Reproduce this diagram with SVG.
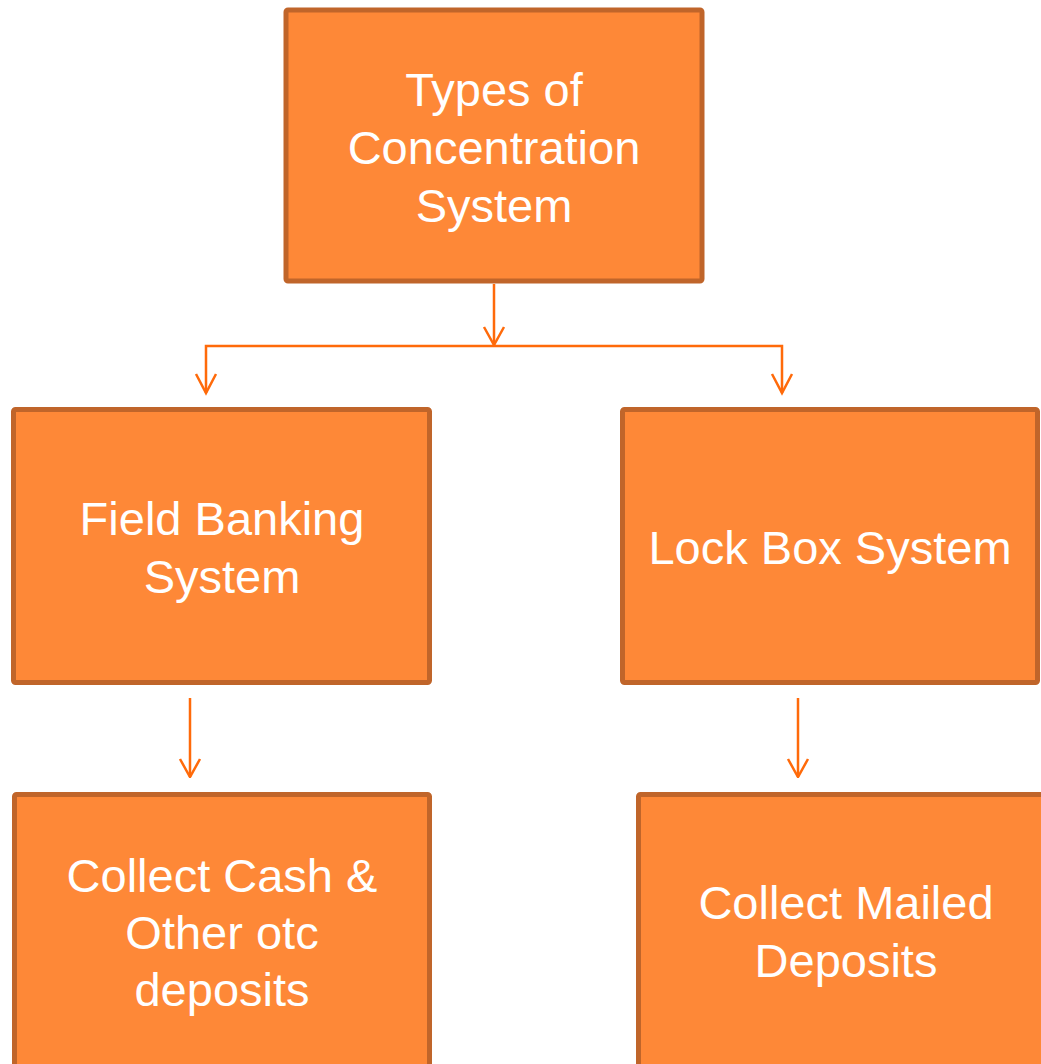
<svg xmlns="http://www.w3.org/2000/svg" width="1041" height="1064" viewBox="0 0 1041 1064">
<style>
.box{fill:#FE8837;stroke:#C0652A;stroke-width:5}
.lbl{fill:#FFFFFF;font-family:"Liberation Sans",Arial,sans-serif;font-size:47px;text-anchor:middle}
.con{fill:none;stroke:#FF6A0A;stroke-width:2.5}
</style>
<defs>
<marker id="arr" viewBox="0 0 20 24" refX="19" refY="12" markerWidth="20" markerHeight="24" markerUnits="userSpaceOnUse" orient="auto">
<path d="M1,2 L19,12 L1,22" fill="none" stroke="#FF6A0A" stroke-width="2.5"/>
</marker>
</defs>
<rect width="1041" height="1064" fill="#FFFFFF"/>
<g id="connectors">
<line class="con" x1="494" y1="284" x2="494" y2="345" marker-end="url(#arr)"/>
<path class="con" d="M206,393 V346 H782 V393"/>
<path d="M196,374 L206,393 L216,374" class="con"/>
<path d="M772,374 L782,393 L792,374" class="con"/>
<line class="con" x1="190" y1="698" x2="190" y2="777" marker-end="url(#arr)"/>
<line class="con" x1="798" y1="698" x2="798" y2="777" marker-end="url(#arr)"/>
</g>
<g id="node-types">
<rect class="box" x="286" y="10" width="416" height="271" rx="2"/>
<text class="lbl" x="494" y="106">Types of</text>
<text class="lbl" x="494" y="164">Concentration</text>
<text class="lbl" x="494" y="222">System</text>
</g>
<g id="node-field">
<rect class="box" x="13.5" y="409.5" width="416" height="273" rx="2"/>
<text class="lbl" x="222" y="535">Field Banking</text>
<text class="lbl" x="222" y="593">System</text>
</g>
<g id="node-lockbox">
<rect class="box" x="622.5" y="409.5" width="415" height="273" rx="2"/>
<text class="lbl" x="830" y="564">Lock Box System</text>
</g>
<g id="node-cash">
<rect class="box" x="14.5" y="794.5" width="415" height="290" rx="2"/>
<text class="lbl" x="222" y="892">Collect Cash &amp;</text>
<text class="lbl" x="222" y="949">Other otc</text>
<text class="lbl" x="222" y="1006">deposits</text>
</g>
<g id="node-mailed">
<rect class="box" x="638.5" y="794.5" width="416" height="290" rx="2"/>
<text class="lbl" x="846" y="919">Collect Mailed</text>
<text class="lbl" x="846" y="977">Deposits</text>
</g>
</svg>
